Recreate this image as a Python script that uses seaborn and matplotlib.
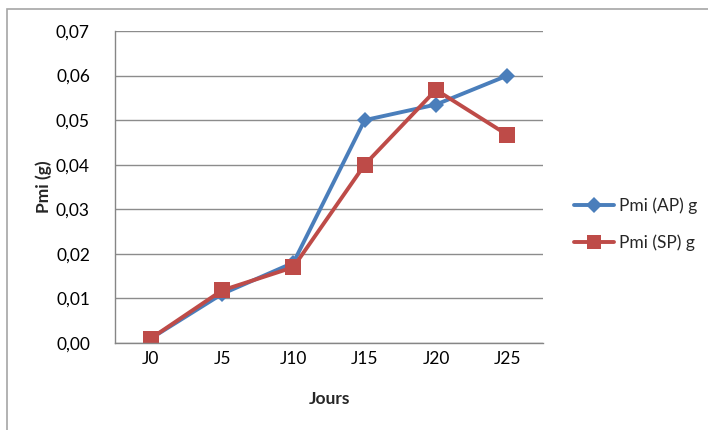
import matplotlib
matplotlib.use("Agg")
import matplotlib.pyplot as plt
from matplotlib.patches import Rectangle
from matplotlib.ticker import FixedLocator, FuncFormatter
import seaborn as sns
import pandas as pd

days = ["J0", "J5", "J10", "J15", "J20", "J25"]
pmi_ap = [0.001, 0.011, 0.018, 0.050, 0.0535, 0.060]
pmi_sp = [0.001, 0.0118, 0.017, 0.040, 0.0568, 0.0467]
series_names = ["Pmi (AP) g", "Pmi (SP) g"]
y_ticks = [0.00, 0.01, 0.02, 0.03, 0.04, 0.05, 0.06, 0.07]

df = pd.DataFrame({
    "pos": list(range(len(days))) * 2,
    "Pmi": pmi_ap + pmi_sp,
    "serie": [series_names[0]] * len(days) + [series_names[1]] * len(days),
})

sns.set_style("white")
plt.rcParams["font.family"] = ["Lato", "DejaVu Sans"]

fig = plt.figure(figsize=(7.08, 4.30), dpi=100)
ax = fig.add_axes([115 / 708, 1 - 343 / 430, 428 / 708, 312 / 430])

# outer chart frame
fig.patches.append(Rectangle((7 / 708, -0.05), 1.1, 1 - 9 / 430 + 0.05,
                             transform=fig.transFigure, fill=False,
                             edgecolor="#a6a6a6", linewidth=1.2))

palette = {series_names[0]: "#4a7ebb", series_names[1]: "#be4b48"}
sns.lineplot(data=df, x="pos", y="Pmi", hue="serie", style="serie",
             markers={series_names[0]: "D", series_names[1]: "s"},
             dashes=False, palette=palette, linewidth=2.8,
             markersize=9, markeredgewidth=0, ax=ax, legend=False)
for line in ax.get_lines():
    if line.get_marker() == "s":
        line.set_markersize(11)
    else:
        line.set_markersize(8.5)

ax.set_xlim(-0.5, len(days) - 0.5)
ax.set_ylim(0, 0.07)
ax.set_yticks(y_ticks)
ax.yaxis.set_major_formatter(FuncFormatter(lambda v, p: f"{v:.2f}".replace(".", ",")))
ax.set_xticks(range(len(days)))
ax.set_xticklabels(days)
ax.xaxis.set_minor_locator(FixedLocator([i - 0.5 for i in range(len(days) + 1)]))
ax.tick_params(axis="x", which="major", length=0, pad=6, labelsize=12.5, labelcolor="black")
ax.tick_params(axis="x", which="minor", length=5, width=1, color="#868686", direction="out")
ax.tick_params(axis="y", which="major", length=5, width=1, color="#868686",
               direction="out", labelsize=12.5, pad=13, labelcolor="black")

ax.grid(axis="y", color="#8c8c8c", linewidth=1)
ax.grid(axis="x", visible=False)
ax.set_axisbelow(True)
for side in ["top", "right"]:
    ax.spines[side].set_visible(False)
for side in ["left", "bottom"]:
    ax.spines[side].set_color("#868686")
    ax.spines[side].set_linewidth(1)

ax.set_xlabel("Jours", fontsize=12.5, fontweight="bold", labelpad=17)
ax.set_ylabel("Pmi (g)", fontsize=12.5, fontweight="bold", labelpad=3)

handles = [
    plt.Line2D([], [], color=palette[series_names[0]], marker="D", markersize=8,
               markeredgewidth=0, linewidth=2.8),
    plt.Line2D([], [], color=palette[series_names[1]], marker="s", markersize=10,
               markeredgewidth=0, linewidth=2.8),
]
fig.legend(handles, series_names, loc="center left",
           bbox_to_anchor=(562 / 708, 1 - 224 / 430), frameon=False,
           fontsize=12.5, handlelength=2.3, labelspacing=1.2, handletextpad=0.3,
           borderpad=0.2)

fig.savefig("out.png", dpi=100)
